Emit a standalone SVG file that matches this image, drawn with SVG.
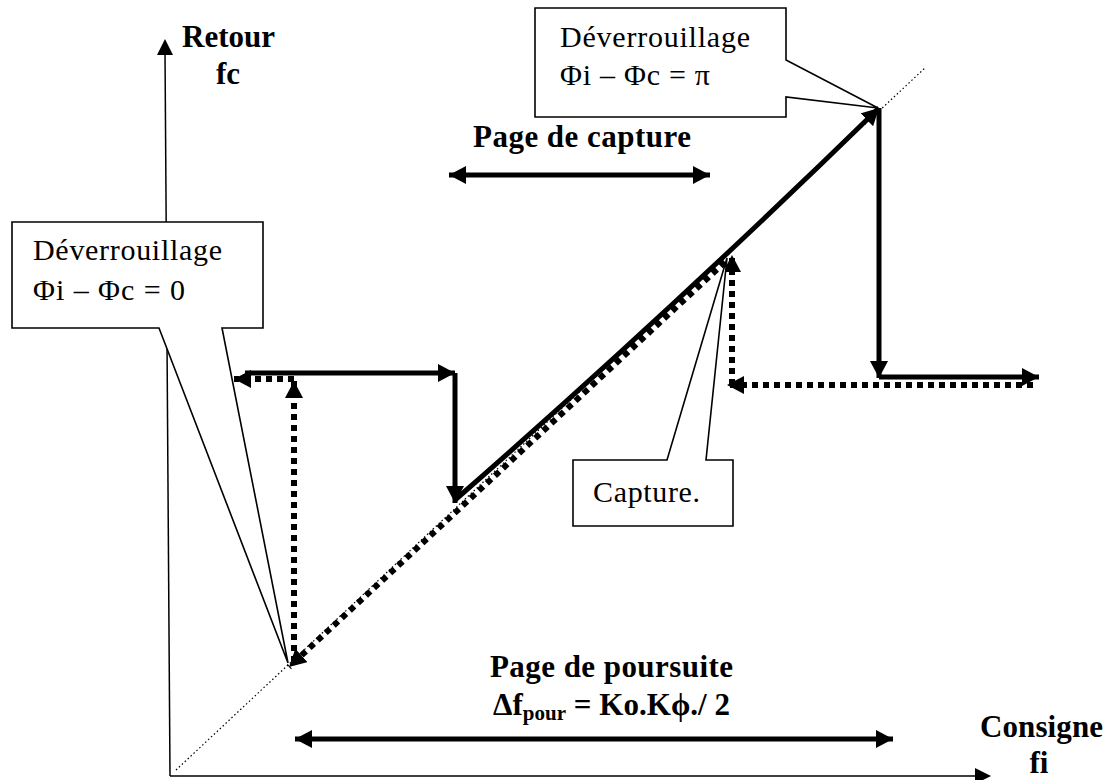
<svg xmlns="http://www.w3.org/2000/svg" width="1108" height="780" viewBox="0 0 1108 780">
<style>
.n{font-family:'Liberation Serif','Times New Roman','DejaVu Serif',serif;font-size:30px;fill:#000}
.b{font-family:'Liberation Serif','Times New Roman','DejaVu Serif',serif;font-size:31px;font-weight:bold;fill:#000}
.box{fill:#fff;stroke:#000;stroke-width:1.6}
.thin{fill:none;stroke:#000;stroke-width:1.5}
.thick{fill:none;stroke:#000;stroke-width:5}
.dot{fill:none;stroke:#000;stroke-width:6;stroke-dasharray:6 5}
.fine{fill:none;stroke:#000;stroke-width:1.2;stroke-dasharray:1.5 2.5}
</style>
<defs>
<marker id="ah" markerUnits="userSpaceOnUse" markerWidth="20" markerHeight="20" refX="17" refY="9" orient="auto">
<path d="M0,0 L17,9 L0,18 Z" fill="#000"/>
</marker>
<marker id="ahs" markerUnits="userSpaceOnUse" markerWidth="20" markerHeight="20" refX="17" refY="9" orient="auto-start-reverse">
<path d="M0,0 L17,9 L0,18 Z" fill="#000"/>
</marker>
</defs>

<g id="axes">
<line class="thin" x1="170" y1="776" x2="165" y2="52"/>
<path d="M165,39 L157,55 L173,55 Z" fill="#000"/>
<line class="thin" x1="170" y1="776" x2="976" y2="776"/>
<path d="M991,776 L975,768 L975,784 Z" fill="#000"/>
<line class="fine" x1="176" y1="770" x2="926" y2="67"/>
</g>

<g id="connectors">
<line class="thick" x1="245" y1="373" x2="455" y2="373" marker-end="url(#ah)"/>
<line class="thick" x1="455" y1="373" x2="455" y2="503" marker-end="url(#ah)"/>
<path class="thick" d="M455,500 Q670,312 879,108" marker-end="url(#ah)"/>
<line class="thick" x1="879" y1="108" x2="879" y2="378" marker-end="url(#ah)"/>
<line class="thick" x1="879" y1="377" x2="1039" y2="377" marker-end="url(#ah)"/>
<line class="dot" x1="1033" y1="385" x2="727" y2="385" marker-end="url(#ah)"/>
<line class="dot" x1="732" y1="385" x2="732" y2="255" marker-end="url(#ah)"/>
<line class="dot" x1="725" y1="262" x2="289" y2="667" marker-end="url(#ah)"/>
<line class="dot" x1="294" y1="662" x2="294" y2="381" marker-end="url(#ah)"/>
<line class="dot" x1="294" y1="379" x2="234" y2="379" marker-end="url(#ah)"/>
<line class="thick" stroke-width="4" x1="449" y1="175" x2="710" y2="175" marker-start="url(#ahs)" marker-end="url(#ahs)"/>
<line class="thick" stroke-width="4" x1="295" y1="739" x2="893" y2="739" marker-start="url(#ahs)" marker-end="url(#ahs)"/>
</g>

<g id="label-retour">
<text class="b" x="182" y="47" textLength="93" lengthAdjust="spacing">Retour</text>
<text class="b" x="228" y="84" text-anchor="middle">fc</text>
</g>

<g id="callout-unlock0">
<path class="box" d="M12,222 L263,222 L263,328 L222,328 L288,663 L159,328 L12,328 Z"/>
<text class="n" x="33" y="260" textLength="189" lengthAdjust="spacing">Déverrouillage</text>
<text class="n" x="33" y="300" textLength="152" lengthAdjust="spacing">Φi – Φc = 0</text>
</g>

<g id="callout-unlockpi">
<path class="box" d="M535,8 L786,8 L786,60 L878,108 L786,97 L786,117 L535,117 Z"/>
<text class="n" x="560" y="47" textLength="190" lengthAdjust="spacing">Déverrouillage</text>
<text class="n" x="560" y="85" textLength="150" lengthAdjust="spacing">Φi – Φc = π</text>
</g>

<g id="callout-capture">
<path class="box" d="M573,460 L667,460 L727,258 L706,460 L733,460 L733,526 L573,526 Z"/>
<text class="n" x="593" y="502" textLength="107" lengthAdjust="spacing">Capture.</text>
</g>

<g id="label-capture">
<text class="b" x="473" y="147" textLength="218" lengthAdjust="spacing">Page de capture</text>
</g>

<g id="label-poursuite">
<text class="b" x="490" y="677" textLength="243" lengthAdjust="spacing">Page de poursuite</text>
<text class="b" x="493" y="715" textLength="237" lengthAdjust="spacing">Δf<tspan font-size="21" dy="5">pour</tspan><tspan dy="-5"> = Ko.Kϕ./ 2</tspan></text>
</g>

<g id="label-consigne">
<text class="b" x="980" y="737" textLength="123" lengthAdjust="spacing">Consigne</text>
<text class="b" x="1039" y="773" text-anchor="middle">fi</text>
</g>
</svg>
